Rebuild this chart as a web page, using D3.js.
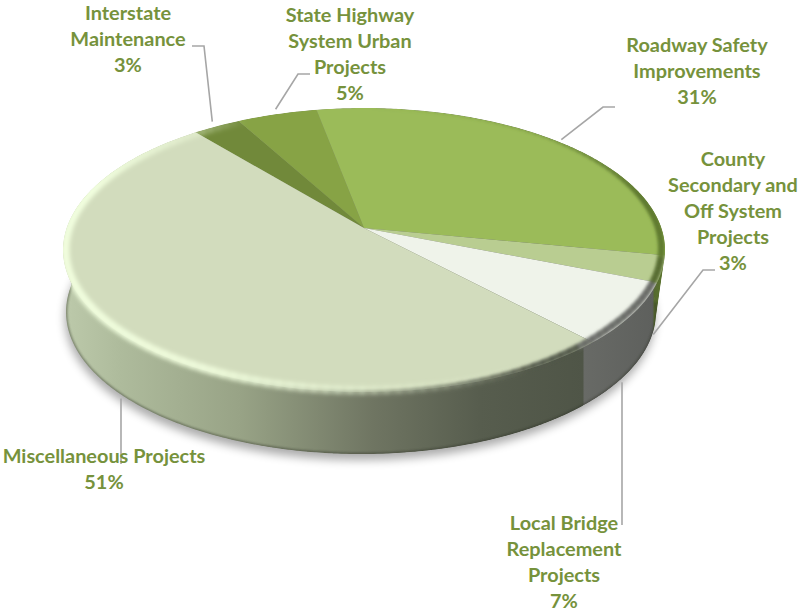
<!DOCTYPE html>
<html><head><meta charset="utf-8">
<script src="https://cdn.jsdelivr.net/npm/d3@7"></script>
<style>html,body{margin:0;padding:0;background:#fff}svg{display:block}</style></head>
<body><svg id="c" width="799" height="614"></svg>
<script>
const categories=["Interstate Maintenance","State Highway System Urban Projects","Roadway Safety Improvements","County Secondary and Off System Projects","Local Bridge Replacement Projects","Miscellaneous Projects"];
const values=[3,5,31,3,7,51];
const labelLines=[["Interstate","Maintenance","3%"],["State Highway","System Urban","Projects","5%"],["Roadway Safety","Improvements","31%"],["County","Secondary and","Off System","Projects","3%"],["Local Bridge","Replacement","Projects","7%"],["Miscellaneous Projects","51%"]];
const topColors=["#71893a","#87a345","#9bbb59","#b9cd91","#eff3ea","#d2dcbd"];
const rimColors=["#71893a","#87a345","#5f7a30","#556a2e","#666864",null];
const labelX=[128,350,697,733,564,104];
const labelBase=[20,22,52,166,530,463];
const elbows=[[[204,46],[192,46]],[[298,74],[310,74]],[[603,107],[615,107]],[[703,270],[715,270]],[[622,525]],[[121,464]]];
const anchorNudge=[[-2,-3],[0,-3],[4,1],[-5,3],[-7,5],[6,5]];
const onBottomRim=[false,false,false,true,true,true];
const sideX=[66,120,240,373,480,583,584,653,654,668];
const sideCol=["#bcc9aa","#aebb9c","#98a386","#6f7562","#575d4e","#4f5547","#686a66","#5e605d","#556a2e","#5f7a30"];

const svg=d3.select("#c"),defs=svg.append("defs");
const Xc=364,Yc=228,A=297.4,B=138.6,W=0.155,depth=62,shrink=.98,shiftX=-3;
const startDeg=-39.4,rad=Math.PI/180;
const proj=(t,k=1)=>{const u=Math.sin(t)*k,v=Math.cos(t)*k,d=1+W*v;return [Xc+A*u/d,Yc-B*v/d];};
const projB=(t,k=1)=>{const p=proj(t,k);return [Xc+shiftX+(p[0]-Xc)*shrink,p[1]+depth];};
const arcPts=(a,b,f,k)=>d3.range(0,1.0001,1/Math.max(2,Math.ceil((b-a)/(rad*1.5)))).map(s=>f(a+(b-a)*s,k));
const line=d3.line();
const pie=d3.pie().sort(null).startAngle(startDeg*rad).endAngle(startDeg*rad+2*Math.PI);
const arcs=pie(values);
const sideScale=d3.scaleLinear().domain(sideX).range(sideCol);
const grad=defs.append("linearGradient").attr("id","sideG").attr("gradientUnits","userSpaceOnUse").attr("x1",0).attr("x2",799).attr("y1",0).attr("y2",0);
sideX.forEach((x,i)=>grad.append("stop").attr("offset",x/799).attr("stop-color",sideCol[i]));
const blur=(id,s)=>defs.append("filter").attr("id",id).attr("x","-20%").attr("y","-20%").attr("width","140%").attr("height","140%").append("feGaussianBlur").attr("stdDeviation",s);
blur("sh",5);blur("b1",1.1);blur("b2",1.5);blur("b3",2.2);

const full=[0,2*Math.PI];
svg.append("path").attr("d",line(arcPts(full[0],full[1],projB))+"Z").attr("transform","translate(-1,6)").attr("fill","#000").attr("opacity",.33).attr("filter","url(#sh)");
const clip=defs.append("clipPath").attr("id","sil");
const sidePath=d=>line(arcPts(d.startAngle,d.endAngle,proj).concat(arcPts(d.startAngle,d.endAngle,projB).reverse()))+"Z";
clip.selectAll("path").data(arcs).join("path").attr("d",sidePath);
clip.append("path").attr("d",line(arcPts(full[0],full[1],proj))+"Z");
clip.append("path").attr("d",line(arcPts(full[0],full[1],projB))+"Z");
const g=svg.append("g").attr("clip-path","url(#sil)");
g.append("path").attr("d",line(arcPts(full[0],full[1],projB))+"Z").attr("fill","url(#sideG)");
g.selectAll("path.side").data(arcs).join("path").attr("class","side").attr("d",sidePath).attr("fill","url(#sideG)");
g.append("path").attr("d",line(arcPts(95*rad,285*rad,projB))).attr("fill","none").attr("stroke","#2f3328").attr("stroke-width",2.5).attr("opacity",.5).attr("filter","url(#b1)");
g.selectAll("path.top").data(arcs).join("path").attr("class","top")
 .attr("d",d=>line([[Xc,Yc]].concat(arcPts(d.startAngle,d.endAngle,proj)))+"Z")
 .attr("fill",(d,i)=>topColors[i]);
const segs=d3.range(0,360,2).map(a=>[a*rad,(a+2.5)*rad]);
const norm=t=>{const r=(t-startDeg*rad)%(2*Math.PI);return r<0?r+2*Math.PI:r;};
const sliceAt=t=>arcs.findIndex(d=>{const n=norm(t);return n>=d.startAngle-startDeg*rad&&n<d.endAngle-startDeg*rad;});
const rimColor=t=>{const c=rimColors[sliceAt(t)];return c||sideScale(proj(t)[0]);};
const darkOp=d3.scaleLinear().domain([0,40,75,175,235,360]).range([0,.35,1,.85,0,0]).clamp(true);
const darkK=d3.scaleLinear().domain([40,100,130,155,180]).range([1.0,.988,.985,.996,1.0]).clamp(true);
const darkW=d3.scaleLinear().domain([40,80,135,165]).range([3,7,7,4]).clamp(true);
const edge=g.append("g").attr("filter","url(#b2)");
edge.selectAll("path").data(segs).join("path").attr("d",d=>line(arcPts(d[0],d[1],proj,darkK(d[0]/rad))))
 .attr("fill","none").attr("stroke-width",d=>darkW(d[0]/rad))
 .attr("stroke",d=>rimColor(d[0]))
 .attr("opacity",d=>darkOp(d[0]/rad));
const hiOp=d3.scaleLinear().domain([150,172,205,285,320,332]).range([0,.3,.85,1,.3,0]).clamp(true);
const hi=g.append("g").attr("filter","url(#b3)");
hi.selectAll("path").data(segs).join("path").attr("d",d=>line(arcPts(d[0],d[1],proj,.992)))
 .attr("fill","none").attr("stroke","#f2ffdf").attr("stroke-width",8)
 .attr("opacity",d=>hiOp(d[0]/rad));
const leaders=svg.append("g").attr("fill","none").attr("stroke","#a6a6a6").attr("stroke-width",1.6);
arcs.forEach((d,i)=>{const m=(d.startAngle+d.endAngle)/2;
 const q=onBottomRim[i]?projB(m,1.016):proj(m,1.018);
 const p=[q[0]+anchorNudge[i][0],q[1]+anchorNudge[i][1]];
 if(elbows[i].length===1)p[0]=elbows[i][0][0];
 leaders.append("path").attr("d",line([p].concat(elbows[i])));});
const lab=svg.append("g").attr("font-family","Lato, 'Open Sans', sans-serif").attr("font-weight",700).attr("font-size",19.9).attr("fill","#76923c").attr("text-anchor","middle");
labelLines.forEach((ls,i)=>ls.forEach((t,j)=>lab.append("text").attr("x",labelX[i]).attr("y",labelBase[i]+j*25.9).text(t)));
</script></body></html>
